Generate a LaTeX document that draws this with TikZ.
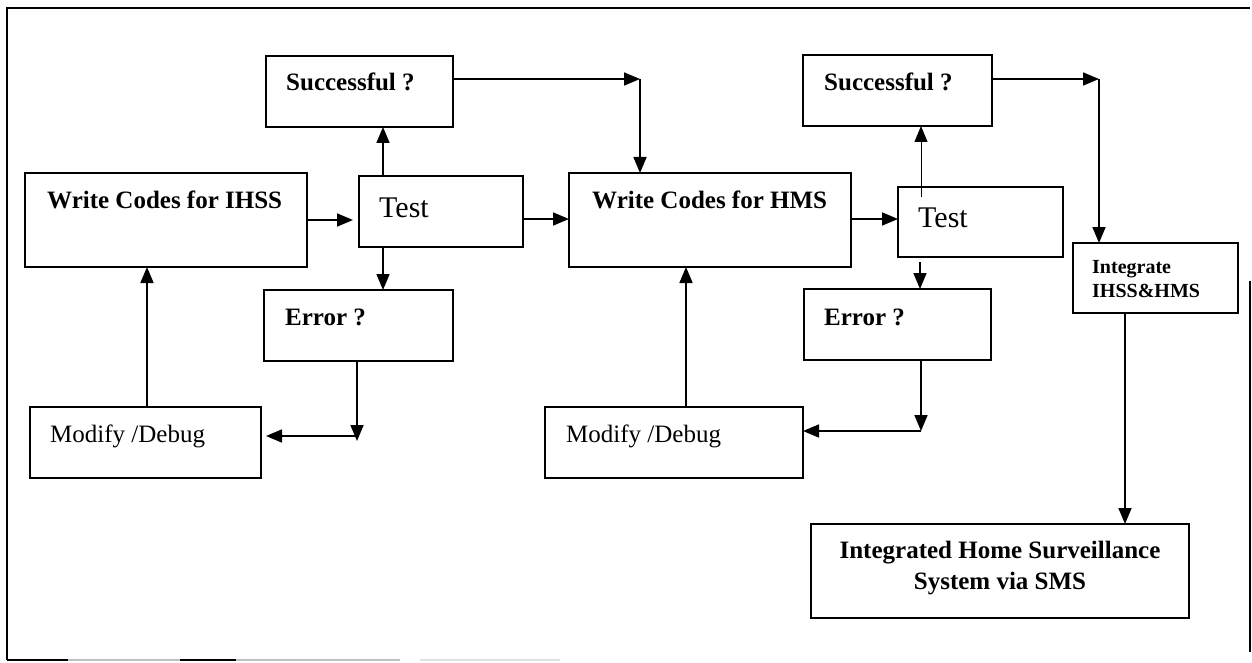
\documentclass[tikz,border=0pt]{standalone}
\usepackage{fontspec}
\setmainfont{Liberation Serif}
\usetikzlibrary{arrows.meta}

% a box given by its corners: name, x1, y1, x2, y2
\newcommand\panel[5]{%
  \node[box, minimum width={(#4-#2)*1pt}, minimum height={(#5-#3)*1pt}]
    (#1) at ({(#2+#4)/2},{(#3+#5)/2}) {};}

\begin{document}
\begin{tikzpicture}[x=1pt,y=-1pt,
  box/.style={draw, line width=1.9pt, inner sep=0pt, outer sep=0pt},
  bold/.style={font=\fontsize{25}{30}\selectfont\bfseries, inner sep=0pt, anchor=base west},
  plain/.style={font=\fontsize{25}{30}\selectfont, inner sep=0pt, anchor=base west},
  big/.style={font=\fontsize{30}{36}\selectfont, inner sep=0pt, anchor=base west},
  small/.style={font=\fontsize{20}{24}\selectfont\bfseries, inner sep=0pt, anchor=base west},
  centred/.style={font=\fontsize{25}{30}\selectfont\bfseries, inner sep=0pt, anchor=base},
  flow/.style={line width=1.7pt, -{Triangle[length=16pt,width=13pt]}},
  thinflow/.style={line width=0.9pt, -{Triangle[length=16pt,width=13pt]}},
  frame/.style={line width=1.8pt}]

\useasboundingbox (0,0) rectangle (1252,663);

% outer frame
\draw[frame] (7,660) -- (7,8) -- (1250,8);
\draw[frame] (1250,281) -- (1250,652);
\draw[frame] (7,660) -- (68,660);
\draw[frame, black!25] (68,660) -- (400,660);
\draw[frame] (180,660) -- (236,660);
\draw[frame, black!12] (420,660) -- (560,660);

% boxes
\panel{w1}{25}{173}{307}{267}
\panel{t1}{359}{176}{523}{247}
\panel{s1}{266}{56}{453}{127}
\panel{e1}{264}{290}{453}{361}
\panel{m1}{30}{407}{261}{478}
\panel{w2}{569}{173}{851}{267}
\panel{t2}{898}{187}{1063}{257}
\panel{s2}{803}{55}{992}{126}
\panel{e2}{804}{289}{991}{360}
\panel{m2}{545}{407}{803}{478}
\panel{ig}{1073}{243}{1238}{313}
\panel{fin}{811}{524}{1189}{618}

% box texts
\node[bold]  (w1t) at (47,208)  {Write Codes for IHSS};
\node[big]   (t1t) at (379,217) {Test};
\node[bold]  (s1t) at (286,91)  {Successful ?};
\node[bold]  (e1t) at (285,325) {Error ?};
\node[plain] (m1t) at (50,442)  {Modify /Debug};
\node[bold]  (w2t) at (592,208) {Write Codes for HMS};
\node[big]   (t2t) at (918,227) {Test};
\node[bold]  (s2t) at (824,91)  {Successful ?};
\node[bold]  (e2t) at (824,325) {Error ?};
\node[plain] (m2t) at (566,442) {Modify /Debug};
\node[small] (igt1) at (1092,273) {Integrate};
\node[small] (igt2) at (1092,297) {IHSS\&HMS};
\node[centred] (fint1) at (1000,558) {Integrated Home Surveillance};
\node[centred] (fint2) at (1000,589) {System via SMS};

% bend points of the elbow connectors
\coordinate (k1) at (640,79);
\coordinate (k2) at (1099,79);
\coordinate (c1) at (357,436);
\coordinate (c2) at (921,431);
\coordinate (tt2) at (921,197);
\coordinate (te2) at (920,262);

% first stage
\draw[flow] (w1.east |- 0,220) -- ([xshift=-6pt]t1.west |- 0,220);
\draw[flow] (t1.north -| 383,0) -- (s1.south -| 383,0);
\draw[flow] (t1.south -| 383,0) -- (e1.north -| 383,0);
\draw[flow] (e1.south -| c1) -- ([yshift=-5pt]c1);
\draw[flow] (c1) -- ([xshift=5pt]m1.east |- c1);
\draw[flow] (m1.north -| 147,0) -- (w1.south -| 147,0);
\draw[flow] (s1.east |- k1) -- (k1);
\draw[flow] (k1) -- (w2.north -| k1);
\draw[flow] (t1.east |- 0,219) -- (w2.west |- 0,219);

% second stage
\draw[flow] (w2.east |- 0,219) -- (t2.west |- 0,219);
\draw[thinflow] (tt2) -- (s2.south -| tt2);
\draw[flow] (te2) -- (e2.north -| te2);
\draw[flow] (e2.south -| c2) -- (c2);
\draw[flow] (c2) -- (m2.east |- c2);
\draw[flow] (m2.north -| 686,0) -- (w2.south -| 686,0);
\draw[flow] (s2.east |- k2) -- (k2);
\draw[flow] (k2) -- (ig.north -| k2);
\draw[flow] (ig.south -| 1125,0) -- (fin.north -| 1125,0);

\end{tikzpicture}
\end{document}
